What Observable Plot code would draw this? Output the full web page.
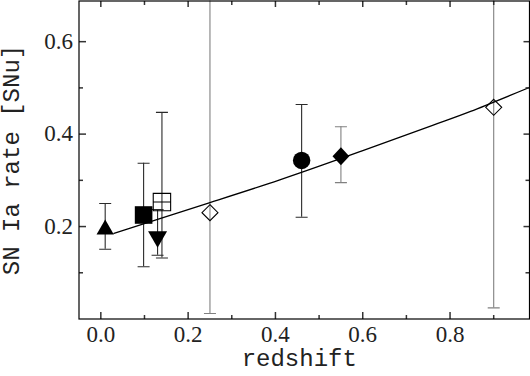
<!DOCTYPE html>
<html>
<head>
<meta charset="utf-8">
<script src="https://cdn.jsdelivr.net/npm/d3@7"></script>
<script src="https://cdn.jsdelivr.net/npm/@observablehq/plot@0.6"></script>
<style>
  html, body { margin: 0; padding: 0; background: #fff; }
  #chart { width: 530px; height: 376px; overflow: hidden; }
</style>
</head>
<body>
<div id="chart"></div>
<script>
// ---- data ----
const redshift = [0.010, 0.098, 0.130, 0.140, 0.250, 0.460, 0.550, 0.900];
const rate     = [0.199, 0.225, 0.172, 0.253, 0.230, 0.343, 0.352, 0.458];
const rateLow  = [0.151, 0.113, 0.138, 0.132, 0.012, 0.220, 0.295, 0.024];
const rateHigh = [0.250, 0.337, 0.237, 0.447, 0.900, 0.464, 0.416, 0.900]; // open diamonds run off the top
const marker   = ["triangleUp", "squareFilled", "triangleDown", "squareOpen",
                  "diamondOpen", "circle", "diamondFilled", "diamondOpen"];

const modelZ    = [0.03, 0.13, 0.25, 0.41, 0.595, 0.76, 0.847, 0.982];
const modelRate = [0.185, 0.2155, 0.252, 0.301, 0.3625, 0.419, 0.449, 0.501];

const xMajor = [0.0, 0.2, 0.4, 0.6, 0.8];
const xMinor = [0.1, 0.3, 0.5, 0.7, 0.9];
const yMajor = [0.2, 0.4, 0.6];
const yMinor = [0.1, 0.3, 0.5];

const xTitle = "redshift";
const yTitle = "SN Ia rate [SNu]";

// ---- styling ----
const points = redshift.map((z, i) => ({z, r: rate[i], lo: rateLow[i], hi: rateHigh[i], m: marker[i]}));

const sym = (f) => ({draw(ctx) { f(ctx); }});
const symbols = {
  triangleUp:   sym(c => { c.moveTo(0, -7.5); c.lineTo(8.65, 7.5); c.lineTo(-8.65, 7.5); c.closePath(); }),
  triangleDown: sym(c => { c.moveTo(-9.5, -8.25); c.lineTo(9.5, -8.25); c.lineTo(0, 8.25); c.closePath(); }),
  squareFilled: sym(c => { c.rect(-8.8, -8.8, 17.6, 17.6); }),
  squareOpen:   sym(c => { c.rect(-8.7, -8.7, 17.4, 17.4); c.moveTo(-8.7, 0); c.lineTo(8.7, 0); }),
  diamondOpen:  sym(c => { c.moveTo(0, -8); c.lineTo(8, 0); c.lineTo(0, 8); c.lineTo(-8, 0); c.closePath(); }),
  diamondFilled:sym(c => { c.moveTo(0, -9); c.lineTo(8.4, 0); c.lineTo(0, 9); c.lineTo(-8.4, 0); c.closePath(); }),
  circle:       sym(c => { c.moveTo(8.7, 0); c.arc(0, 0, 8.7, 0, 2 * Math.PI); })
};
const openMarkers = new Set(["squareOpen", "diamondOpen"]);
const barColor = (m) => (m.startsWith("diamond") ? "#808080" : "#2a2a2a");

const cap = sym(c => { c.moveTo(-6, 0); c.lineTo(6, 0); });
const tickSym = (dx, dy) => sym(c => { c.moveTo(0, 0); c.lineTo(dx, dy); });

const markerMarks = Object.keys(symbols).map(k => {
  const data = points.filter(d => d.m === k);
  const isOpen = openMarkers.has(k);
  return Plot.dot(data, {
    x: "z", y: "r", symbol: symbols[k], r: 5,
    fill: isOpen ? "none" : "black",
    stroke: isOpen ? "black" : "none",
    strokeWidth: 1.1
  });
});

const tickColor = "#333";
const chart = Plot.plot({
  width: 530,
  height: 376,
  marginLeft: 78.5,
  marginRight: 1,
  marginTop: 0.5,
  marginBottom: 57.5,
  x: {domain: [-0.05, 0.982]},
  y: {domain: [0, 0.688]},
  style: {background: "white", overflow: "hidden"},
  marks: [
    // error bars
    Plot.ruleX(points, {x: "z", y1: "lo", y2: "hi", stroke: d => barColor(d.m), strokeWidth: 1.1, clip: true}),
    Plot.dot(points, {x: "z", y: "lo", symbol: cap, r: 5, stroke: d => barColor(d.m), strokeWidth: 1.1, clip: true}),
    Plot.dot(points, {x: "z", y: "hi", symbol: cap, r: 5, stroke: d => barColor(d.m), strokeWidth: 1.1, clip: true}),
    // model curve
    Plot.line(modelZ.map((z, i) => ({z, r: modelRate[i]})), {x: "z", y: "r", curve: "natural", stroke: "black", strokeWidth: 1.3, clip: true}),
    // markers
    ...markerMarks,
    // inward ticks on all four sides
    Plot.dotX(xMajor, {frameAnchor: "bottom", symbol: tickSym(0, -7), r: 5, stroke: tickColor}),
    Plot.dotX(xMinor, {frameAnchor: "bottom", symbol: tickSym(0, -4), r: 5, stroke: tickColor}),
    Plot.dotX(xMajor, {frameAnchor: "top", symbol: tickSym(0, 6), r: 5, stroke: tickColor}),
    Plot.dotX(xMinor, {frameAnchor: "top", symbol: tickSym(0, 4), r: 5, stroke: tickColor}),
    Plot.dotY(yMajor, {frameAnchor: "left", symbol: tickSym(7, 0), r: 5, stroke: tickColor}),
    Plot.dotY(yMinor, {frameAnchor: "left", symbol: tickSym(4, 0), r: 5, stroke: tickColor}),
    Plot.dotY(yMajor, {frameAnchor: "right", symbol: tickSym(-6, 0), r: 5, stroke: tickColor}),
    Plot.dotY(yMinor, {frameAnchor: "right", symbol: tickSym(-4, 0), r: 5, stroke: tickColor}),
    // tick labels
    Plot.axisX({ticks: xMajor, tickSize: 0, tickPadding: 6.5, tickFormat: d3.format(".1f"), label: null,
                fontSize: 23, fontFamily: "Liberation Serif", fill: "#222"}),
    Plot.axisY({ticks: yMajor, tickSize: 0, tickPadding: 6, tickFormat: d3.format(".1f"), label: null,
                fontSize: 23, fontFamily: "Liberation Serif", fill: "#222"}),
    // axis titles
    Plot.text([xTitle], {text: d => d, frameAnchor: "bottom", lineAnchor: "bottom", textAnchor: "middle", dy: 46.5, dx: -5,
                fontFamily: "Liberation Mono", fontSize: 24, fill: "#222"}),
    Plot.text([yTitle], {text: d => d, frameAnchor: "left", rotate: -90, textAnchor: "middle", lineAnchor: "middle", dx: -68,
                fontFamily: "Liberation Mono", fontSize: 24, fill: "#222"}),
    Plot.frame({stroke: "black", strokeWidth: 1.2})
  ]
});
document.getElementById("chart").appendChild(chart);
</script>
</body>
</html>
